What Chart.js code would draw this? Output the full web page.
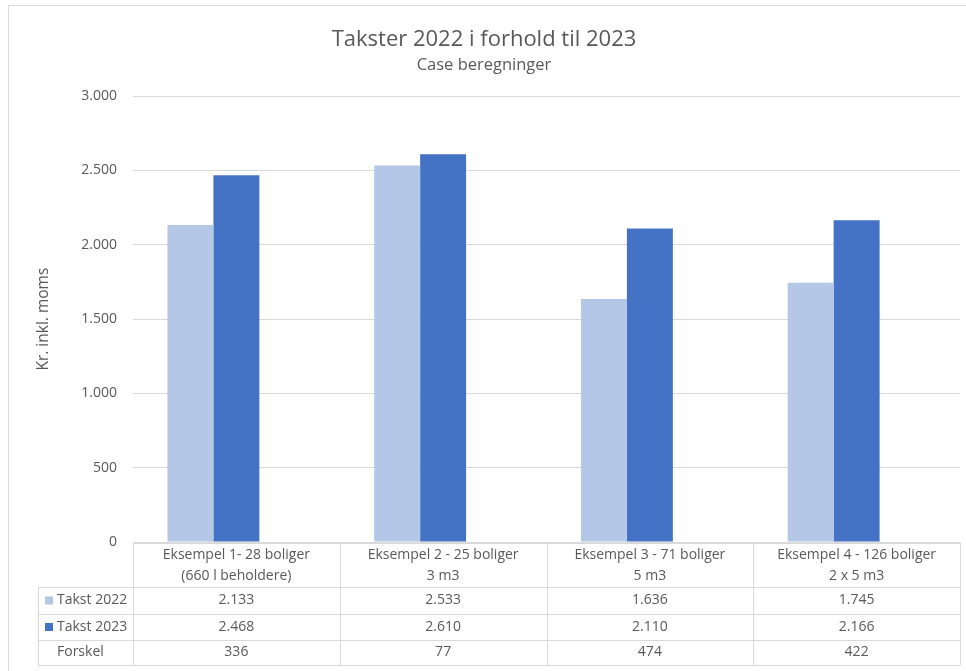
<!DOCTYPE html>
<html>
<head>
<meta charset="utf-8">
<script src="https://cdn.jsdelivr.net/npm/chart.js@4.4.0/dist/chart.umd.min.js"></script>
<style>
  html, body { margin: 0; padding: 0; background: #fff; }
  #wrap { position: relative; width: 966px; height: 671px; }
</style>
</head>
<body>
<div id="wrap"><canvas id="chart" width="966" height="671"></canvas></div>
<script>
// --- DATA ---
const categories = [
    ['Eksempel 1- 28 boliger', '(660 l beholdere)'],
    ['Eksempel 2 - 25 boliger', '3 m3'],
    ['Eksempel 3 - 71 boliger', '5 m3'],
    ['Eksempel 4 - 126 boliger', '2 x 5 m3']
];
const takst2022 = [2133, 2533, 1636, 1745];
const takst2023 = [2468, 2610, 2110, 2166];
const forskel = [336, 77, 474, 422];
const yTicks = [0, 500, 1000, 1500, 2000, 2500, 3000];

const textColor = '#595959';
const lineColor = '#d9d9d9';
const light = '#b4c7e7';
const dark = '#4472c4';
const fontFamily = "'Open Sans', 'Noto Sans', sans-serif";

function fmt(n) {
    return String(n).replace(/\B(?=(\d{3})+(?!\d))/g, '.');
}

// draws the outer frame and the data table below the plot
const tablePlugin = {
    id: 'dataTable',
    beforeDraw(chart) {
        const ctx = chart.ctx;
        ctx.save();
        ctx.strokeStyle = lineColor;
        ctx.lineWidth = 1;
        ctx.strokeRect(8.5, 5.5, 1000, 700);
        ctx.restore();
    },
    afterDraw(chart) {
        const ctx = chart.ctx;
        const area = chart.chartArea;
        const n = categories.length;
        const colW = (area.right - area.left) / n;
        const top = area.bottom + 1;
        const rows = [top, top + 44, top + 71, top + 97, top + 122];
        const leftEdge = 38;

        ctx.save();
        ctx.strokeStyle = lineColor;
        ctx.lineWidth = 1;
        ctx.beginPath();
        // header top line
        ctx.moveTo(area.left, rows[0] + 0.5);
        ctx.lineTo(area.right, rows[0] + 0.5);
        for (let r = 1; r < rows.length; r++) {
            ctx.moveTo(leftEdge, rows[r] + 0.5);
            ctx.lineTo(area.right, rows[r] + 0.5);
        }
        for (let i = 0; i <= n; i++) {
            const x = Math.round(area.left + i * colW) + 0.5;
            ctx.moveTo(x, rows[0]);
            ctx.lineTo(x, rows[4]);
        }
        ctx.moveTo(leftEdge + 0.5, rows[1]);
        ctx.lineTo(leftEdge + 0.5, rows[4]);
        ctx.stroke();

        ctx.fillStyle = textColor;
        ctx.font = '14px ' + fontFamily;
        ctx.textAlign = 'center';
        ctx.textBaseline = 'middle';
        const xs = chart.scales.x;
        categories.forEach((lab, i) => {
            const cx = xs.getPixelForValue(i);
            ctx.fillText(lab[0], cx, rows[0] + 12);
            ctx.fillText(lab[1], cx, rows[0] + 33);
            ctx.fillText(fmt(takst2022[i]), cx, (rows[1] + rows[2]) / 2);
            ctx.fillText(fmt(takst2023[i]), cx, (rows[2] + rows[3]) / 2);
            ctx.fillText(fmt(forskel[i]), cx, (rows[3] + rows[4]) / 2);
        });

        // row labels with legend keys
        const labels = [
            { text: 'Takst 2022', color: light },
            { text: 'Takst 2023', color: dark },
            { text: 'Forskel', color: null }
        ];
        ctx.textAlign = 'left';
        labels.forEach((l, r) => {
            const cy = (rows[r + 1] + rows[r + 2]) / 2;
            if (l.color) {
                ctx.fillStyle = l.color;
                ctx.fillRect(45, cy - 4, 8, 8);
            }
            ctx.fillStyle = textColor;
            ctx.fillText(l.text, 57, cy);
        });
        ctx.restore();
    }
};

const ctx = document.getElementById('chart').getContext('2d');
new Chart(ctx, {
    type: 'bar',
    data: {
        labels: categories,
        datasets: [
            { label: 'Takst 2022', data: takst2022, backgroundColor: light },
            { label: 'Takst 2023', data: takst2023, backgroundColor: dark },
            // Forskel is a series in the chart too, but has no fill
            { label: 'Forskel', data: forskel, backgroundColor: 'rgba(0,0,0,0)' }
        ]
    },
    options: {
        responsive: false,
        animation: false,
        datasets: { bar: { categoryPercentage: 0.667, barPercentage: 1 } },
        layout: { padding: { left: 8, right: 6, top: 12, bottom: 129 } },
        plugins: {
            legend: { display: false },
            tooltip: { enabled: false },
            title: {
                display: true,
                text: 'Takster 2022 i forhold til 2023',
                color: textColor,
                font: { family: fontFamily, size: 22, weight: 'normal' },
                padding: { top: 15, bottom: 2 }
            },
            subtitle: {
                display: true,
                text: 'Case beregninger',
                color: textColor,
                font: { family: fontFamily, size: 16.5, weight: 'normal' },
                padding: { top: 0, bottom: 21 }
            }
        },
        scales: {
            x: {
                display: false
            },
            y: {
                min: 0,
                max: 3000,
                afterBuildTicks: (s) => { s.ticks = yTicks.map(v => ({ value: v })); },
                afterFit: (s) => { s.width = 125; },
                border: { display: false },
                grid: { color: lineColor, drawTicks: false },
                ticks: {
                    color: textColor,
                    padding: 16,
                    font: { family: fontFamily, size: 14 },
                    callback: (v) => fmt(v)
                },
                title: {
                    display: true,
                    text: 'Kr. inkl. moms',
                    color: textColor,
                    font: { family: fontFamily, size: 15.5 },
                    padding: { top: 26, bottom: 0 }
                }
            }
        }
    },
    plugins: [tablePlugin]
});
</script>
</body>
</html>
